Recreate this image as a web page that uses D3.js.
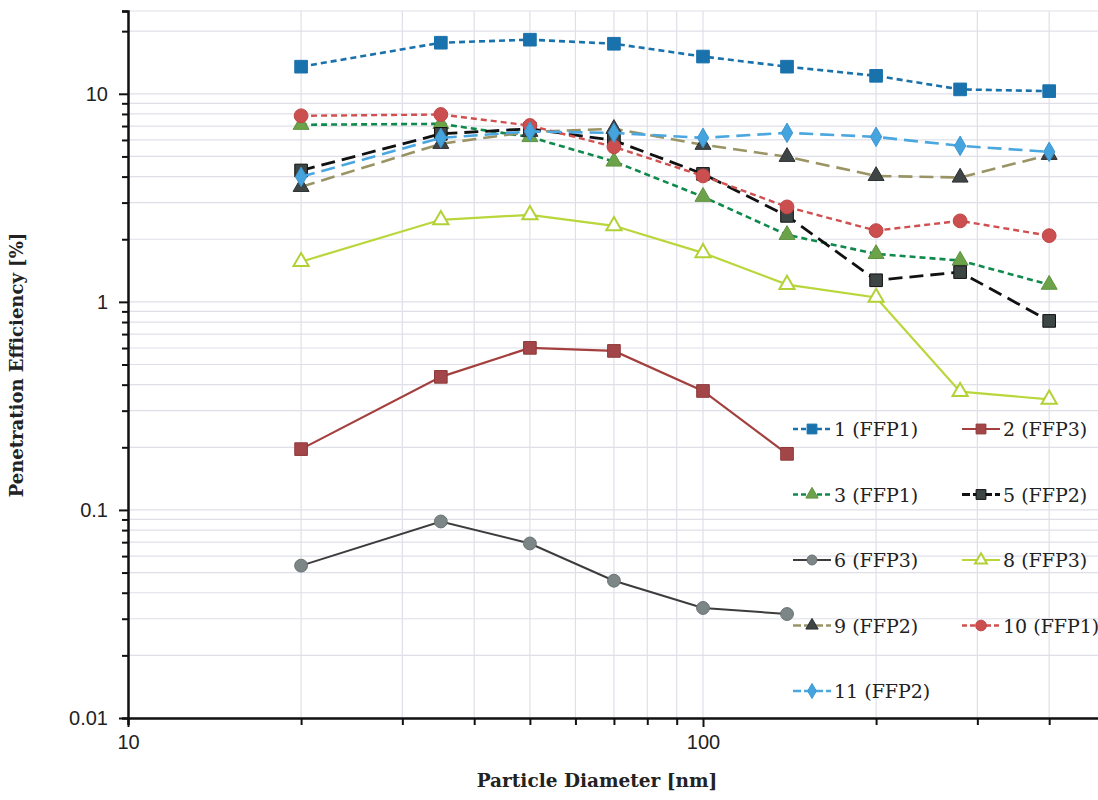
<!DOCTYPE html>
<html>
<head>
<meta charset="utf-8">
<script src="https://cdn.jsdelivr.net/npm/d3@7"></script>
<style>
  body { margin: 0; background: #fff; }
  svg { display: block; }
</style>
</head>
<body>
<svg id="chart" width="1098" height="800"></svg>
<script>
// particle diameters (nm)
const diameters = [20, 35, 50, 70, 100, 140, 200, 280, 400];

// penetration efficiency (%) per mask
const s1  = [13.5, 17.6, 18.2, 17.4, 15.1, 13.5, 12.2, 10.5, 10.3];
const s2  = [0.196, 0.436, 0.601, 0.581, 0.373, 0.186];
const s3  = [7.1, 7.17, 6.2, 4.73, 3.2, 2.1, 1.70, 1.58, 1.21];
const s5  = [4.28, 6.42, 6.79, 5.97, 4.12, 2.59, 1.27, 1.39, 0.81];
const s6  = [0.054, 0.088, 0.069, 0.0457, 0.0338, 0.0316];
const s8  = [1.56, 2.48, 2.62, 2.32, 1.72, 1.21, 1.05, 0.37, 0.34];
const s9  = [3.57, 5.75, 6.57, 6.79, 5.69, 4.98, 4.03, 3.96, 5.09];
const s10 = [7.84, 7.95, 7.04, 5.56, 4.03, 2.86, 2.20, 2.45, 2.08];
const s11 = [3.99, 6.14, 6.59, 6.49, 6.14, 6.49, 6.21, 5.62, 5.26];

const seriesNames = ["1 (FFP1)", "2 (FFP3)", "3 (FFP1)", "5 (FFP2)", "6 (FFP3)",
                     "8 (FFP3)", "9 (FFP2)", "10 (FFP1)", "11 (FFP2)"];
const seriesValues = [s1, s2, s3, s5, s6, s8, s9, s10, s11];

const xLabels = {10: "10", 100: "100"};
const yLabels = {0.01: "0.01", 0.1: "0.1", 1: "1", 10: "10"};

// styling per series
const styles = [
  {line: "#1a72ad", fill: "#1a72ad", stroke: "#1a72ad", dash: "6,4", w: 2.6, sym: d3.symbolSquare, size: 160},
  {line: "#a3403e", fill: "#a3464a", stroke: "#8e3a38", dash: null, w: 2.2, sym: d3.symbolSquare, size: 160},
  {line: "#108a4c", fill: "#6ca34a", stroke: "#5d9340", dash: "6,4", w: 2.6, sym: d3.symbolTriangle, size: 110},
  {line: "#111111", fill: "#3d4545", stroke: "#111", dash: "14,7", w: 2.8, sym: d3.symbolSquare, size: 160},
  {line: "#3c3c3c", fill: "#7c8686", stroke: "#6a7373", dash: null, w: 2, sym: d3.symbolCircle, size: 130},
  {line: "#b9d63a", fill: "#fff", stroke: "#b2d136", dash: null, w: 2.2, sym: d3.symbolTriangle, size: 100, open: true},
  {line: "#9a9465", fill: "#3f4444", stroke: "#2e3232", dash: "14,7", w: 2.6, sym: d3.symbolTriangle, size: 110},
  {line: "#d0504f", fill: "#cc4f50", stroke: "#c04646", dash: "6,4", w: 2.4, sym: d3.symbolCircle, size: 150},
  {line: "#4aa7e0", fill: "#45a3dd", stroke: "#3d97d2", dash: "14,7", w: 2.6, sym: d3.symbolDiamond, size: 110}
];

const svg = d3.select("#chart");

const x = d3.scaleLog().domain([10, 1000]).range([128, 1278]);
const y = d3.scaleLog().domain([0.01, 25]).range([718, 11]);

const isMajor = d => Math.abs(Math.log10(d) - Math.round(Math.log10(d))) < 1e-6;

// grid
const grid = svg.append("g").attr("stroke", "#dfdfea").attr("stroke-width", 1.2);
grid.selectAll("line.gx").data(x.ticks().filter(d => x(d) < 1098)).join("line")
  .attr("x1", d => x(d)).attr("x2", d => x(d))
  .attr("y1", 11).attr("y2", 718);
grid.selectAll("line.gy").data(y.ticks().concat([25])).join("line")
  .attr("x1", 128).attr("x2", 1098)
  .attr("y1", d => y(d)).attr("y2", d => y(d));

// axes
const xAxis = d3.axisBottom(x).tickValues(x.ticks().filter(d => x(d) < 1098))
  .tickFormat(d => isMajor(d) ? xLabels[Math.round(d)] : "")
  .tickSize(7).tickPadding(10);
const yAxis = d3.axisLeft(y).tickValues(y.ticks().concat([25]))
  .tickFormat(d => isMajor(d) ? yLabels[+d.toPrecision(1)] : "")
  .tickSize(6).tickPadding(14);

const gx = svg.append("g").attr("transform", "translate(0,718)").call(xAxis);
const gy = svg.append("g").attr("transform", "translate(128,0)").call(yAxis);
[gx, gy].forEach(g => {
  g.select(".domain").attr("stroke", "#111").attr("stroke-width", 2.5);
  g.selectAll(".tick line").attr("stroke", "#111").attr("stroke-width", 2);
  g.selectAll(".tick text")
    .attr("fill", "#222")
    .style("font-family", "'Liberation Sans Narrow', 'Liberation Sans', sans-serif")
    .style("font-size", "20px");
});
gy.selectAll(".tick").filter(d => isMajor(d)).select("line").attr("x2", -9);
gx.selectAll(".tick").filter(d => isMajor(d)).select("line").attr("y2", 9);

// axis titles
svg.append("text")
  .attr("x", 597).attr("y", 787)
  .attr("text-anchor", "middle")
  .style("font-family", "'DejaVu Serif', serif")
  .style("font-weight", "bold")
  .style("font-size", "18.5px")
  .attr("fill", "#222")
  .text("Particle Diameter [nm]");

svg.append("text")
  .attr("transform", "translate(23,365) rotate(-90)")
  .attr("text-anchor", "middle")
  .style("font-family", "'DejaVu Serif', serif")
  .style("font-weight", "bold")
  .style("font-size", "18px")
  .attr("fill", "#222")
  .text("Penetration Efficiency [%]");

// series
const line = d3.line().x(d => x(d[0])).y(d => y(d[1]));
const plot = svg.append("g");

seriesValues.forEach((vals, i) => {
  const st = styles[i];
  const pts = vals.map((v, j) => [diameters[j], v]);
  const g = plot.append("g");
  g.append("path")
    .datum(pts)
    .attr("d", line)
    .attr("fill", "none")
    .attr("stroke", st.line)
    .attr("stroke-width", st.w)
    .attr("stroke-dasharray", st.dash);
  g.selectAll("path.m").data(pts).join("path")
    .attr("class", "m")
    .attr("transform", d => `translate(${x(d[0])},${y(d[1])})`)
    .attr("d", d3.symbol().type(st.sym).size(st.size))
    .attr("fill", st.fill)
    .attr("stroke", st.stroke)
    .attr("stroke-width", st.open ? 2 : 1);
});

// legend
const legend = svg.append("g");
seriesNames.forEach((name, i) => {
  const st = styles[i];
  const col = i % 2, row = Math.floor(i / 2);
  const lx = col === 0 ? 793 : 962;
  const ly = 429 + row * 65.5;
  const g = legend.append("g").attr("transform", `translate(${lx},${ly})`);
  g.append("line")
    .attr("x1", 0).attr("x2", 38)
    .attr("stroke", st.line)
    .attr("stroke-width", st.w)
    .attr("stroke-dasharray", st.dash ? (st.dash === "6,4" ? "5,3" : "8,3") : null);
  g.append("path")
    .attr("transform", "translate(19,0)")
    .attr("d", d3.symbol().type(st.sym).size(st.size * 0.6))
    .attr("fill", st.fill)
    .attr("stroke", st.stroke)
    .attr("stroke-width", st.open ? 2 : 1);
  g.append("text")
    .attr("x", 41).attr("y", 7)
    .style("font-family", "'DejaVu Serif', serif")
    .style("font-size", "19px")
    .attr("fill", "#222")
    .text(name);
});
</script>
</body>
</html>
